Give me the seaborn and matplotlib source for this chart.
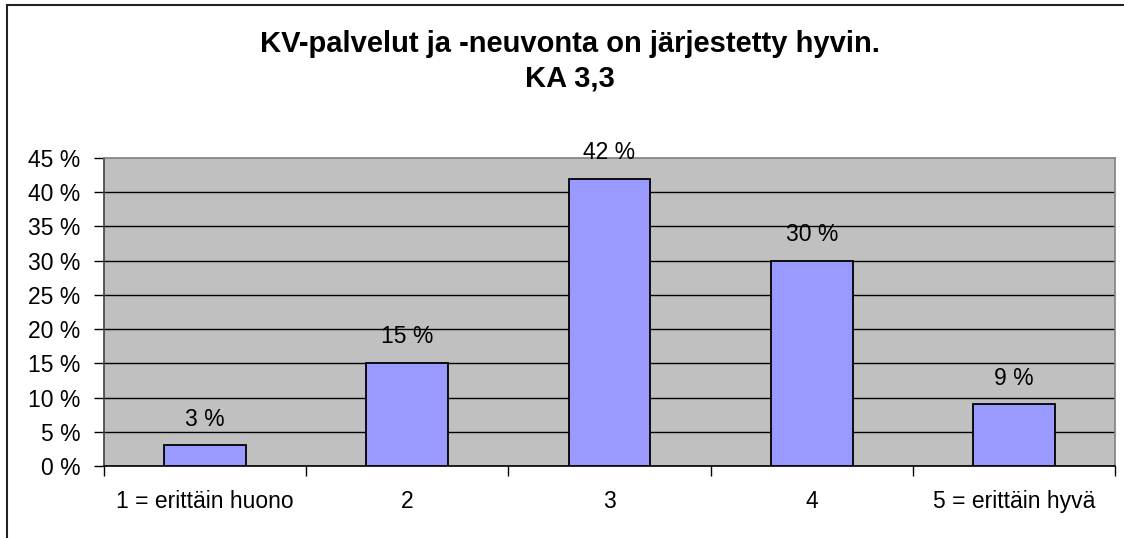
import matplotlib
matplotlib.use("Agg")
import matplotlib.pyplot as plt
import matplotlib.patches as mpatches
import numpy as np
import pandas as pd
import seaborn as sns

# Survey answer distribution
categories = ["1 = erittäin huono", "2", "3", "4", "5 = erittäin hyvä"]
shares = [3, 15, 42, 30, 9]
bar_labels = ["3 %", "15 %", "42 %", "30 %", "9 %"]
y_ticks = [0, 5, 10, 15, 20, 25, 30, 35, 40, 45]
y_tick_labels = [f"{v} %" for v in y_ticks]
title_text = "KV-palvelut ja -neuvonta on järjestetty hyvin.\nKA 3,3"

sns.set_theme(style="white")
plt.rcParams["font.family"] = ["Liberation Sans", "DejaVu Sans"]

W, H = 1124, 538
fig = plt.figure(figsize=(W / 100, H / 100), dpi=100)
fig.patch.set_facecolor("white")

# Outer chart frame (left and top edges visible)
frame = mpatches.Rectangle((7 / W, -0.1), 1.2, 1 - 5 / H + 0.1,
                           transform=fig.transFigure, fill=False,
                           edgecolor="#222222", linewidth=1.5)
fig.patches.append(frame)

ax = fig.add_axes([104 / W, 1 - 466 / H, (1115 - 104) / W, (466 - 158) / H])
ax.set_facecolor("#C0C0C0")

df = pd.DataFrame({"kategoria": categories, "osuus": shares})
sns.barplot(data=df, x="kategoria", y="osuus", color="#9999FF",
            saturation=1, edgecolor="black", linewidth=1.3,
            width=0.405, ax=ax, zorder=3)

ax.set_xlim(-0.5, len(categories) - 0.5)
ax.set_ylim(0, 45)
ax.set_yticks(y_ticks)
ax.set_yticklabels(y_tick_labels)
ax.set_xlabel("")
ax.set_ylabel("")

# Horizontal gridlines
ax.yaxis.grid(True, color="black", linewidth=1)
ax.set_axisbelow(True)
ax.yaxis.get_gridlines()[-1].set_visible(False)

# Category boundaries get tick marks, labels sit between them
ax.set_xticks(np.arange(-0.5, len(categories)), minor=False)
ax.set_xticklabels([""] * (len(categories) + 1))
ax.set_xticks(np.arange(len(categories)), minor=True)
ax.set_xticklabels(categories, minor=True)

ax.tick_params(axis="x", which="major", length=7, width=1, color="black",
               direction="out", bottom=True)
ax.tick_params(axis="x", which="minor", length=0, pad=17, labelsize=16.5,
               labelcolor="black")
ax.tick_params(axis="y", which="major", length=7, width=1, color="black",
               direction="out", left=True, pad=10, labelsize=16.5,
               labelcolor="black")

for side in ["top", "right"]:
    ax.spines[side].set_color("#808080")
    ax.spines[side].set_linewidth(1.2)
ax.spines["left"].set_color("#404040")
ax.spines["left"].set_linewidth(1.2)
ax.spines["bottom"].set_color("black")
ax.spines["bottom"].set_linewidth(1.2)

# Value labels above the bars
for i, (v, lab) in enumerate(zip(shares, bar_labels)):
    ax.annotate(lab, xy=(i, v), xytext=(0, 19), textcoords="offset points",
                ha="center", va="center", fontsize=16.5, color="black",
                annotation_clip=False, zorder=5)

fig.text(570 / W, 1 - 61 / H, title_text, ha="center", va="center",
         fontsize=21, fontweight="bold", color="black", linespacing=1.3)

fig.savefig("out.png", dpi=100, facecolor="white")
